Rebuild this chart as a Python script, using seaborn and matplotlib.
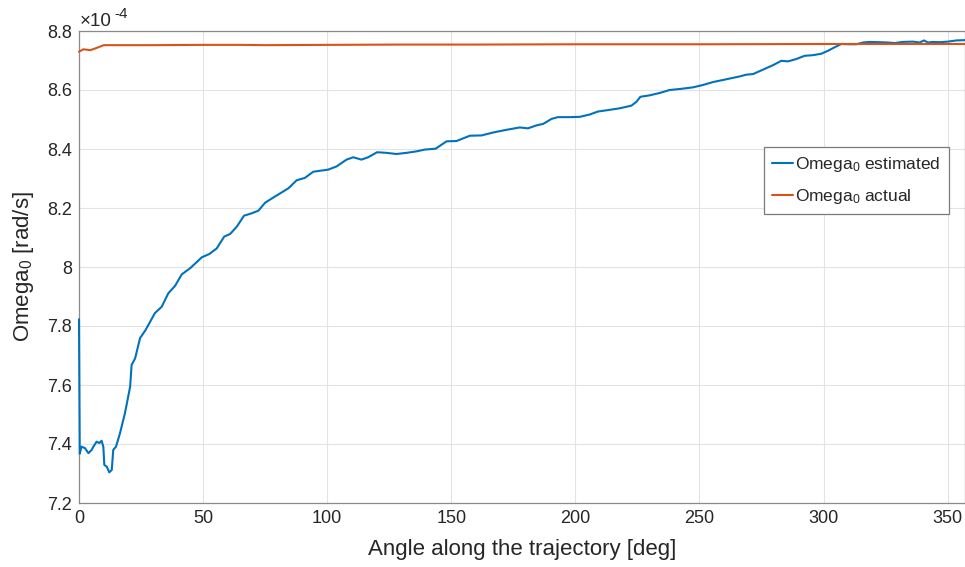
import matplotlib
matplotlib.use("Agg")
import matplotlib.pyplot as plt
import seaborn as sns
import pandas as pd
from matplotlib.ticker import FuncFormatter

# ---- data (Omega values in units of 1e-4 rad/s) ----
ang_est = [0, 0.3, 1.0, 2.4, 3.8, 5.1, 5.8, 7.1, 8.2, 9.1,
           9.8, 10.2, 11.2, 12.2, 13.2, 13.8, 14.9, 16.5, 18.5, 20.6,
           21.2, 22.6, 24.6, 26.8, 30.6, 33.3, 36.0, 38.7, 41.4, 44.8,
           49.5, 52.5, 55.5, 58.5, 60.9, 63.6, 66.5, 69.6, 72.3, 75.0,
           78.4, 81.7, 84.4, 87.7, 91.0, 94.4, 100.4, 103.8, 107.8, 110.5,
           113.8, 116.5, 120.1, 123.9, 127.9, 132.0, 136.0, 139.3, 143.7, 148.1,
           152.1, 157.5, 162.2, 166.9, 172.2, 177.6, 180.9, 184.3, 187.0, 190.4,
           193.0, 197.7, 201.8, 205.8, 209.1, 213.2, 217.9, 222.6, 224.6, 226.2,
           230.0, 234.0, 238.0, 242.7, 247.4, 251.4, 255.5, 259.5, 266.2, 268.9,
           271.6, 275.6, 279.6, 283.0, 285.7, 289.0, 292.4, 295.7, 299.1, 301.8,
           304.5, 307.2, 310.5, 313.2, 315.9, 318.6, 322.6, 325.9, 328.6, 332.0,
           336.0, 338.7, 340.5, 342.0, 344.1, 346.8, 350.1, 353.5, 357.0]
omega_est = [7.823, 7.367, 7.391, 7.386, 7.369, 7.380, 7.391, 7.408, 7.403, 7.411,
             7.391, 7.329, 7.323, 7.304, 7.312, 7.380, 7.391, 7.436, 7.504, 7.594,
             7.668, 7.690, 7.759, 7.786, 7.844, 7.865, 7.911, 7.936, 7.975, 7.996,
             8.033, 8.044, 8.063, 8.103, 8.112, 8.137, 8.174, 8.182, 8.191, 8.218,
             8.236, 8.253, 8.267, 8.294, 8.302, 8.323, 8.330, 8.341, 8.364, 8.372,
             8.364, 8.372, 8.389, 8.387, 8.383, 8.387, 8.392, 8.398, 8.401, 8.426,
             8.427, 8.445, 8.446, 8.456, 8.465, 8.473, 8.470, 8.480, 8.485, 8.502,
             8.508, 8.508, 8.509, 8.517, 8.527, 8.532, 8.538, 8.547, 8.560, 8.577,
             8.582, 8.590, 8.600, 8.604, 8.609, 8.617, 8.627, 8.634, 8.646, 8.652,
             8.654, 8.669, 8.684, 8.699, 8.697, 8.705, 8.716, 8.718, 8.723, 8.733,
             8.745, 8.756, 8.755, 8.755, 8.761, 8.763, 8.762, 8.761, 8.759, 8.763,
             8.764, 8.761, 8.768, 8.761, 8.763, 8.762, 8.764, 8.768, 8.769]

ang_act = [0, 1.8, 4.5, 6.6, 10, 30, 50, 65, 75, 100, 130, 160, 200, 250, 300, 330, 357.0]
omega_act = [8.730, 8.738, 8.735, 8.741, 8.752, 8.752, 8.753, 8.753, 8.752, 8.753,
             8.754, 8.754, 8.755, 8.755, 8.756, 8.756, 8.756]

x_ticks = [0, 50, 100, 150, 200, 250, 300, 350]
y_ticks = [7.2, 7.4, 7.6, 7.8, 8.0, 8.2, 8.4, 8.6, 8.8]
label_est = r"Omega$_\mathregular{0}$ estimated"
label_act = r"Omega$_\mathregular{0}$ actual"

# ---- style ----
sns.set_theme(style="white")
plt.rcParams["font.family"] = ["Liberation Sans", "DejaVu Sans"]
plt.rcParams["mathtext.fontset"] = "custom"
plt.rcParams["mathtext.rm"] = "Liberation Sans"
plt.rcParams["mathtext.it"] = "Liberation Sans:italic"
plt.rcParams["mathtext.bf"] = "Liberation Sans:bold"

BLUE = "#0072BD"
ORANGE = "#D95319"
AXCOL = "#8a8a8a"
TXT = "#262626"

fig = plt.figure(figsize=(9.65, 5.67), dpi=100)
ax = fig.add_axes([79 / 965, 64 / 567, 886 / 965, 472 / 567])

df_est = pd.DataFrame({"angle": ang_est, "omega": omega_est})
df_act = pd.DataFrame({"angle": ang_act, "omega": omega_act})

sns.lineplot(data=df_est, x="angle", y="omega", ax=ax, color=BLUE, lw=1.5,
             sort=False, estimator=None, label=label_est, zorder=3)
sns.lineplot(data=df_act, x="angle", y="omega", ax=ax, color=ORANGE, lw=1.5,
             sort=False, estimator=None, label=label_act, zorder=3)
for ln in ax.lines:
    ln.set_clip_on(False)

ax.set_xlim(0, 357)
ax.set_ylim(7.2, 8.8)
ax.set_xticks(x_ticks)
ax.set_yticks(y_ticks)
ax.yaxis.set_major_formatter(FuncFormatter(lambda v, p: f"{v:g}"))

ax.grid(True, color="#e3e3e3", lw=0.8)
ax.set_axisbelow(True)
for s in ax.spines.values():
    s.set_color(AXCOL)
    s.set_linewidth(0.9)
ax.tick_params(direction="in", length=6, width=0.8, color=AXCOL,
               labelsize=13, labelcolor=TXT, pad=5, top=False, right=False)

ax.set_xlabel("Angle along the trajectory [deg]", fontsize=16, color=TXT, labelpad=9)
ax.set_ylabel(r"Omega$_\mathregular{0}$ [rad/s]", fontsize=16, color=TXT, labelpad=8)

ax.text(0.001, 1.011, "×10", transform=ax.transAxes,
        fontsize=13.5, color=TXT, ha="left", va="baseline")
ax.text(0.0395, 1.027, "-4", transform=ax.transAxes,
        fontsize=11, color=TXT, ha="left", va="baseline")

leg = ax.legend(loc="upper right", bbox_to_anchor=(0.9816, 0.7536), borderaxespad=0,
                fontsize=12.5, frameon=True, fancybox=False, shadow=False,
                framealpha=1, edgecolor="#7a7a7a", handlelength=1.2,
                handletextpad=0.15, borderpad=0.45, labelspacing=0.75)
leg.get_frame().set_linewidth(0.9)
leg.set_zorder(5)
for t in leg.get_texts():
    t.set_color(TXT)

fig.savefig("out.png", dpi=100)
